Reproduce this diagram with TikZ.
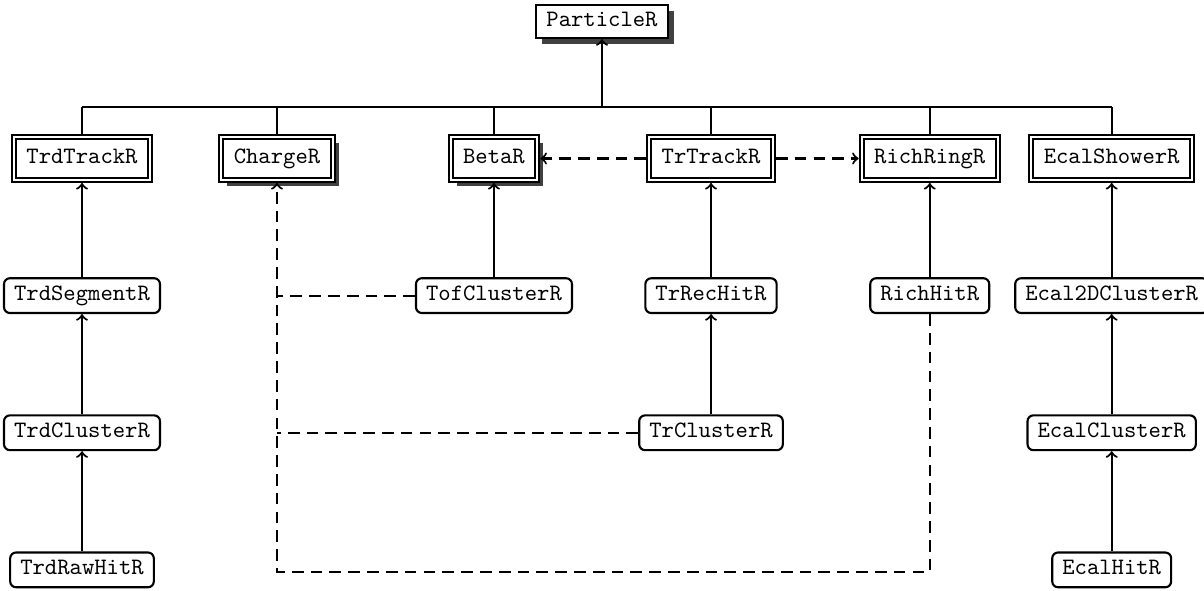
\documentclass[tikz,border=0pt]{standalone}
\usetikzlibrary{shadows}

\begin{document}
\begin{tikzpicture}[font=\ttfamily, line width=0.9pt, node distance=2.05cm]
       \tikzset{rootclass/.style={rectangle, draw, fill=white, inner xsep=4.3pt, inner ysep=2.9pt,
                text height=6.2pt, text depth=2.2pt}}

       \tikzset{mainclass/.style={rectangle, draw, double, double distance=0.85pt, fill=white,
                inner xsep=5.3pt, inner ysep=4.9pt, outer sep=1.3pt, text height=6.2pt, text depth=2.2pt}}

       \tikzset{subclass/.style={rectangle, draw, rounded corners=2.5pt, fill=white,
                inner xsep=4.3pt, inner ysep=3.2pt, text height=6.2pt, text depth=2.2pt}}

       \tikzset{shadowed/.style={drop shadow={shadow xshift=2.6pt, shadow yshift=-2.6pt, fill=black!75, opacity=1}}}

       \tikzset{dep/.style={dash pattern=on 5pt off 3pt}}

        \useasboundingbox (0,0) rectangle (18,-8.821);

        \node[rootclass, shadowed] (ParticleR) at (9,-0.32) {ParticleR};

        \node[mainclass] (TrdTrackR) at (1.226,-2.37) {TrdTrackR};
        \node[mainclass, shadowed] (ChargeR) at (4.141,-2.37) {ChargeR};
        \node[mainclass, shadowed] (BetaR) at (7.385,-2.37) {BetaR};
        \node[mainclass] (TrTrackR) at (10.63,-2.37) {TrTrackR};
        \node[mainclass] (RichRingR) at (13.9,-2.37) {RichRingR};
        \node[mainclass] (EcalShowerR) at (16.62,-2.37) {EcalShowerR};

        \node[subclass, below of = TrdTrackR] (TrdSegmentR) {TrdSegmentR};
        \node[subclass, below of = TrdSegmentR] (TrdClusterR) {TrdClusterR};
        \node[subclass, below of = TrdClusterR] (TrdRawHitR) {TrdRawHitR};
        \node[subclass, below of = BetaR] (TofClusterR) {TofClusterR};
        \node[subclass, below of = TrTrackR] (TrRecHitR) {TrRecHitR};
        \node[subclass, below of = TrRecHitR] (TrClusterR) {TrClusterR};
        \node[subclass, below of = RichRingR] (RichHitR) {RichHitR};
        \node[subclass, below of = EcalShowerR] (Ecal2DClusterR) {Ecal2DClusterR};
        \node[subclass, below of = Ecal2DClusterR] (EcalClusterR) {EcalClusterR};
        \node[subclass, below of = EcalClusterR] (EcalHitR) {EcalHitR};

        \coordinate (bus) at (9,-1.6);
        \coordinate (bend) at (4.141,-8.55);

        % inheritance tree
        \draw[->](bus) -- (ParticleR);
        \draw(TrdTrackR |- bus) -- (EcalShowerR |- bus);
        \draw(TrdTrackR.north) -- (TrdTrackR |- bus);
        \draw(ChargeR.north) -- (ChargeR |- bus);
        \draw(BetaR.north) -- (BetaR |- bus);
        \draw(TrTrackR.north) -- (TrTrackR |- bus);
        \draw(RichRingR.north) -- (RichRingR |- bus);
        \draw(EcalShowerR.north) -- (EcalShowerR |- bus);

        \draw[->](TrdSegmentR) -- (TrdTrackR);
        \draw[->](TrdClusterR) -- (TrdSegmentR);
        \draw[->](TrdRawHitR) -- (TrdClusterR);
        \draw[->](TofClusterR) -- (BetaR);
        \draw[->](TrRecHitR) -- (TrTrackR);
        \draw[->](TrClusterR) -- (TrRecHitR);
        \draw[->](RichHitR) -- (RichRingR);
        \draw[->](Ecal2DClusterR) -- (EcalShowerR);
        \draw[->](EcalClusterR) -- (Ecal2DClusterR);
        \draw[->](EcalHitR) -- (EcalClusterR);

        % references
        \draw[dep,->](TrTrackR) -- (BetaR);
        \draw[dep,->](TrTrackR) -- (RichRingR);
        \draw[dep,->](RichHitR) |- (bend) -- (ChargeR);
        \draw[dep](TofClusterR) -- (TofClusterR -| ChargeR);
        \draw[dep](TrClusterR) -- (TrClusterR -| ChargeR);

   \end{tikzpicture}
\end{document}
